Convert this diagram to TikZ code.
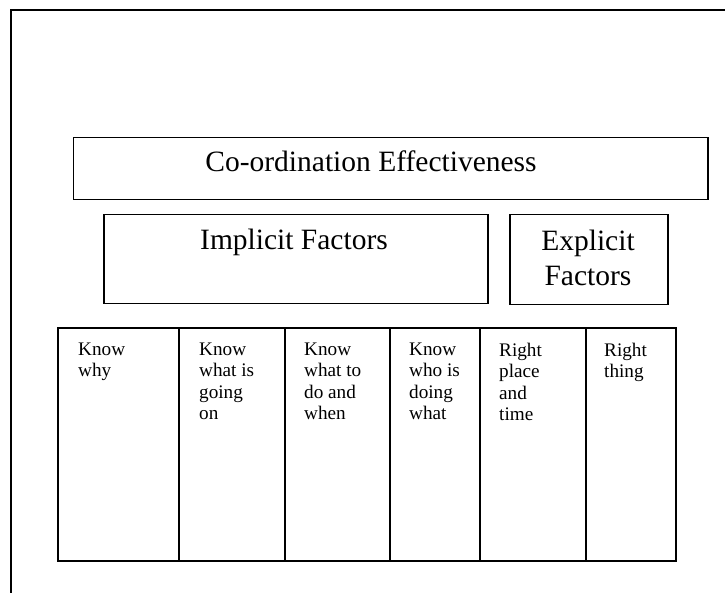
\documentclass[tikz,border=0pt]{standalone}
\usepackage{fontspec}
\setmainfont{Liberation Serif}
\begin{document}
\begin{tikzpicture}[x=1pt,y=-1pt,
  framebox/.style={draw, line width=1.5pt, inner sep=0pt, anchor=north west},
  cellbox/.style={draw, line width=1.8pt, inner sep=0pt, anchor=north west, minimum height=233pt},
  bigtext/.style={inner sep=0pt, font=\fontsize{29.5}{35}\selectfont, align=center},
  celltext/.style={inner sep=0pt, anchor=north west, font=\fontsize{19.2}{21.5}\selectfont, align=left}]
  \useasboundingbox (0,0) rectangle (725,593);
  % page frame: top and left rules only
  \draw[line width=2pt] (725,10) -- (11,10) -- (11,593);

  % heading boxes
  \node[framebox, minimum width=634.5pt, minimum height=62pt] (coord) at (72.5,137) {};
  \node[framebox, minimum width=384pt, minimum height=89pt] (impl) at (103,214) {};
  \node[framebox, minimum width=158pt, minimum height=90pt] (expl) at (509,214) {};
  \node[bigtext, anchor=base] (coordtxt) at (371,172) {Co-ordination Effectiveness};
  \node[bigtext, anchor=base] (impltxt) at (294,250) {Implicit Factors};
  \node[bigtext, anchor=north] (expltxt) at (588,230) {Explicit\\Factors};

  % row of factor columns
  \node[cellbox, minimum width=121pt] (c1) at (57,327) {};
  \node[cellbox, minimum width=106pt] (c2) at (178,327) {};
  \node[cellbox, minimum width=105pt] (c3) at (284,327) {};
  \node[cellbox, minimum width=90pt]  (c4) at (389,327) {};
  \node[cellbox, minimum width=106pt] (c5) at (479,327) {};
  \node[cellbox, minimum width=90pt]  (c6) at (585,327) {};

  \node[celltext] (t1) at (78,342.5)  {Know\\why};
  \node[celltext] (t2) at (199,342.5) {Know\\what is\\going\\on};
  \node[celltext] (t3) at (304,342.5) {Know\\what to\\do and\\when};
  \node[celltext] (t4) at (409,342.5) {Know\\who is\\doing\\what};
  \node[celltext] (t5) at (499,342.5) {Right\\place\\and\\time};
  \node[celltext] (t6) at (604,342.5) {Right\\thing};
\end{tikzpicture}
\end{document}
